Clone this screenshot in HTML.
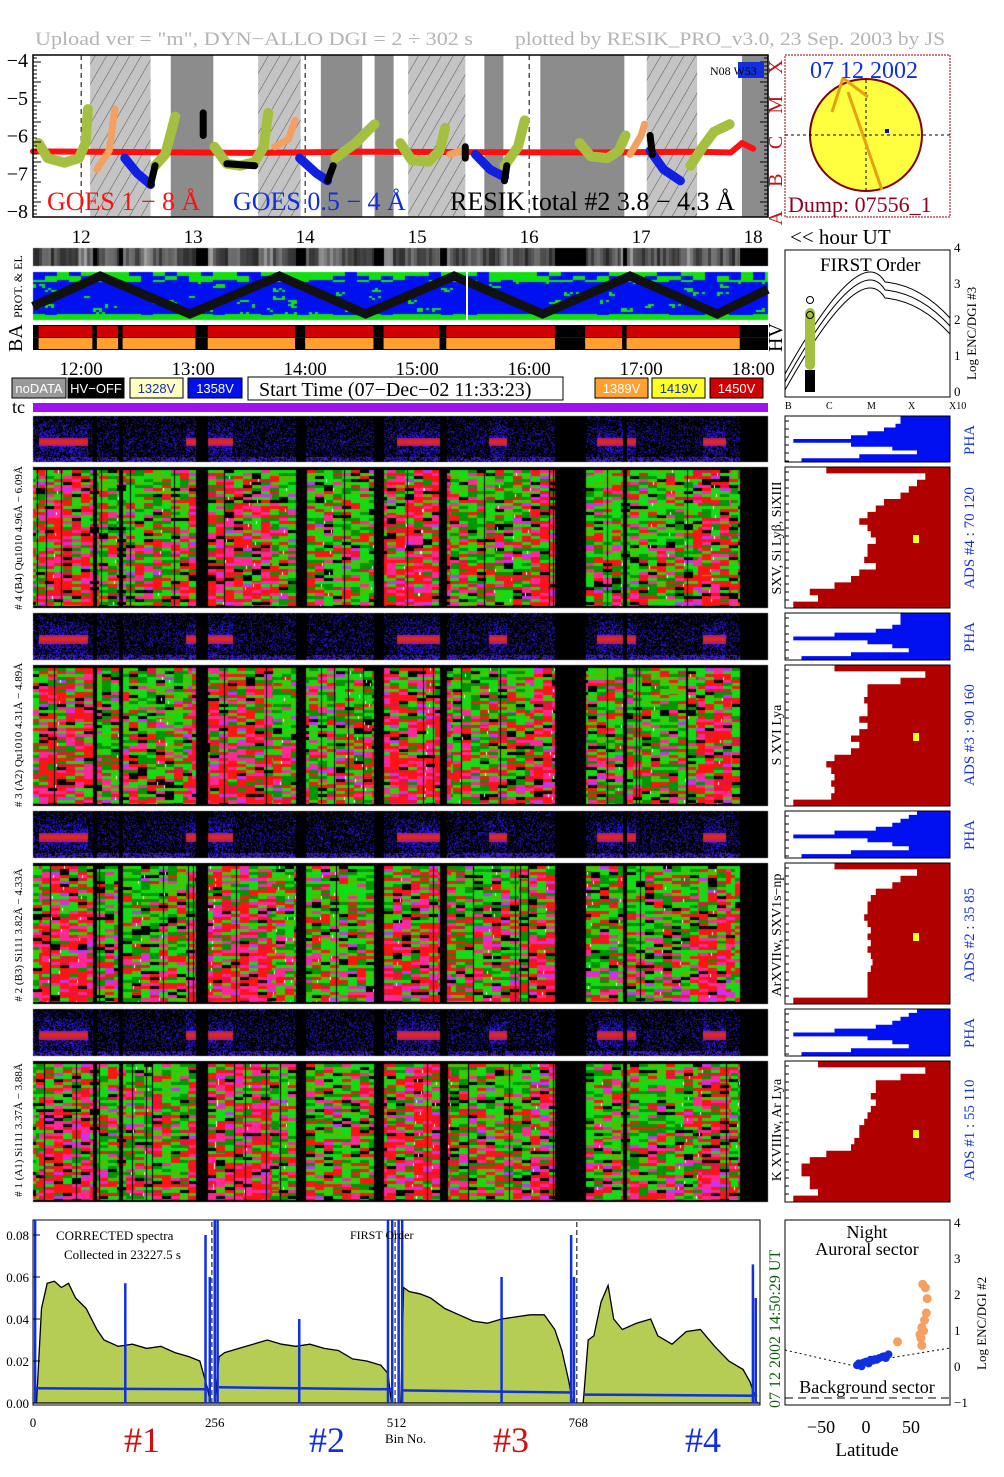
<!DOCTYPE html>
<html><head><meta charset="utf-8"><style>
html,body{margin:0;padding:0;background:#fff;}
#wrap{position:relative;width:1004px;height:1477px;overflow:hidden;font-family:"Liberation Serif",serif;}
canvas{position:absolute;left:0;top:0;}
svg{position:absolute;left:0;top:0;}
</style></head><body>
<div id="wrap">
<canvas id="cv" width="1004" height="1477"></canvas>
<svg id="sv" width="1004" height="1477" xmlns="http://www.w3.org/2000/svg"></svg>
</div>
<script>
// ---------- DATA ----------
const gapStart=[12.10,12.33,13.02,13.91,14.61,15.20,16.23,16.83,17.88];
const gapEnd  =[12.14,12.37,13.13,14.00,14.70,15.26,16.50,16.87,18.13];
const redStart=[11.62,12.93,14.82,15.64,16.60,17.55];
const redEnd  =[12.06,13.35,15.22,15.80,16.95,17.75];
const pinkStart=[11.62,12.95,14.70,16.00,17.50];
const pinkEnd  =[12.10,13.70,15.30,16.25,17.80];
const bandStart=[12.08,12.80,13.58,14.14,14.62,14.92,15.60,16.10,17.05,17.90];
const bandEnd  =[12.62,13.18,13.96,14.51,14.79,15.43,15.77,16.85,17.50,18.13];
const bandHatch=[1,0,1,0,0,1,0,0,1,0];
const hourTicks=[12,13,14,15,16,17,18];
const yTicks=[-4,-5,-6,-7,-8];
const goesT=[11.57,12.5,13.5,14.5,15.5,16.5,17.5,17.8,17.9,18.0];
const goesV=[-6.42,-6.44,-6.46,-6.43,-6.44,-6.45,-6.43,-6.45,-6.2,-6.35];
const oliveT=[11.62,11.7,11.85,11.98,12.04,12.06,null,12.66,12.75,12.84,null,13.19,13.3,13.42,13.55,13.63,13.67,null,14.27,14.45,14.55,14.62,null,14.85,14.95,15.1,15.2,15.25,null,15.78,15.9,15.96,null,16.45,16.55,16.7,16.8,16.86,null,17.44,17.55,17.65,17.79];
const oliveV=[-6.2,-6.6,-6.72,-6.6,-6.2,-5.3,null,-6.8,-6.5,-5.5,null,-6.3,-6.75,-6.8,-6.7,-6.3,-5.4,null,-6.6,-6.2,-5.9,-5.7,null,-6.2,-6.65,-6.7,-6.4,-5.8,null,-6.8,-6.3,-5.6,null,-6.2,-6.55,-6.6,-6.4,-6.0,null,-6.8,-6.3,-5.9,-5.7];
const orangeT=[12.14,12.25,12.3,null,13.73,13.85,13.91,null,15.29,15.4,null,16.9,17.0,17.03];
const orangeV=[-6.9,-6.4,-5.3,null,-6.3,-6.1,-5.6,null,-6.5,-6.4,null,-6.5,-6.0,-5.7];
const blueT=[12.39,12.5,12.62,null,13.95,14.1,14.2,null,15.52,15.65,15.78,null,17.08,17.2,17.35];
const blueV=[-6.6,-7.0,-7.3,null,-6.6,-7.0,-7.2,null,-6.5,-6.9,-7.1,null,-6.4,-6.9,-7.2];
const blackT=[12.62,12.66,null,13.09,13.09,null,13.3,13.55,null,14.2,14.25,null,15.43,15.43,null,15.78,15.8,null,17.08,17.1];
const blackV=[-7.3,-6.8,null,-5.4,-6.0,null,-6.75,-6.8,null,-7.2,-6.8,null,-6.3,-6.6,null,-7.2,-6.8,null,-6.0,-6.5];
const zigT=[11.57,12.17,12.97,13.77,14.54,15.33,16.12,16.90,17.68,18.13];
const zigV=[0.2,1,0,1,0,1,0,1,0,0.65];
const hist4=[0.75,0.15,0.2,0.25,0.3,0.4,0.45,0.5,0.55,0.5,0.48,0.45,0.5,0.5,0.52,0.45,0.55,0.6,0.7,0.85,0.8,0.95];
const hist3=[0.7,0.15,0.3,0.5,0.5,0.52,0.5,0.5,0.55,0.5,0.55,0.6,0.55,0.6,0.7,0.75,0.72,0.7,0.72,0.7,0.72,0.95];
const hist2=[0.7,0.2,0.3,0.35,0.45,0.48,0.5,0.5,0.52,0.5,0.48,0.5,0.48,0.5,0.48,0.47,0.48,0.5,0.5,0.5,0.5,0.95];
const hist1=[0.8,0.15,0.3,0.45,0.45,0.48,0.45,0.48,0.5,0.52,0.55,0.55,0.58,0.6,0.75,0.85,0.9,0.9,0.85,0.85,0.8,0.95];
const pha4=[0.3,0.3,0.33,0.4,0.5,0.6,0.95,0.6,0.35,0.2,0.55,0.9];
const pha3=[0.3,0.3,0.3,0.35,0.45,0.7,0.95,0.5,0.35,0.25,0.6,0.9];
const pha2=[0.2,0.25,0.3,0.35,0.45,0.7,0.95,0.5,0.35,0.25,0.6,0.9];
const pha1=[0.2,0.25,0.3,0.35,0.45,0.7,0.95,0.5,0.35,0.25,0.6,0.9];
const specBins=[0,5,12,20,30,40,50,60,75,90,100,120,140,160,180,200,220,235,245,250,256,262,270,290,310,330,350,370,390,410,430,450,470,490,500,505,512,518,522,530,545,560,580,600,620,640,660,680,700,720,735,745,755,760,768,775,782,790,800,810,818,830,850,870,880,900,920,940,960,980,1000,1010,1015,1020,1024];
const specVals=[0,0,0.045,0.057,0.058,0.055,0.057,0.05,0.045,0.035,0.03,0.027,0.028,0.026,0.027,0.024,0.022,0.02,0.008,0,0,0.022,0.024,0.026,0.028,0.03,0.028,0.027,0.028,0.026,0.025,0.021,0.02,0.018,0.014,0,0,0,0.055,0.053,0.052,0.05,0.045,0.042,0.039,0.038,0.04,0.041,0.042,0.042,0.035,0.025,0.01,0,0,0,0.03,0.032,0.048,0.056,0.04,0.035,0.038,0.04,0.032,0.028,0.034,0.035,0.027,0.02,0.016,0.01,0.005,0,0];
const baseBins=[2,250,262,505,518,760,775,1020];
const baseVals=[0.007,0.0065,0.0075,0.0065,0.006,0.005,0.004,0.0035];
const spikeBins=[3,130,243,249,256,260,375,500,506,515,520,660,758,762,1014,1018];
const spikeVals=[0.09,0.057,0.08,0.06,0.09,0.09,0.04,0.09,0.09,0.09,0.09,0.06,0.08,0.06,0.066,0.05];
const latBlue=[-10,-8,-5,-3,0,3,5,8,10,12,15,18,20,22,25];
const logBlue=[0.05,0.1,0.02,0.12,0.15,0.1,0.2,0.18,0.22,0.2,0.25,0.28,0.3,0.25,0.35];
const latOrange=[35,60,62,65,67,68,66,63,64,61,62];
const logOrange=[0.7,0.9,1.1,1.3,1.5,1.9,2.2,2.3,1.0,0.8,0.6];

// ---------- helpers ----------
const NS='http://www.w3.org/2000/svg';
const sv=document.getElementById('sv');
function el(tag,attrs,parent,txt){const e=document.createElementNS(NS,tag);for(const k in attrs)e.setAttribute(k,attrs[k]);if(txt!==undefined)e.textContent=txt;(parent||sv).appendChild(e);return e;}
const X0=33,X1=768,H0=11.57,PXH=112;
function tx(h){return X0+(h-H0)*PXH;}
function inRanges(h,s,e){for(let i=0;i<s.length;i++)if(h>=s[i]&&h<e[i])return true;return false;}
function hsh(a,b){let v=Math.imul(a,73856093)^Math.imul(b,19349663)^Math.imul(a+b,83492791);v=Math.imul(v^(v>>>13),1274126177);return ((v^(v>>>16))>>>0)/4294967296;}

// ---------- canvas textures ----------
const cv=document.getElementById('cv');const ctx=cv.getContext('2d');
const W=X1-X0;
function mainSpec(y0,h,seed){
  const img=ctx.createImageData(W,h);const d=img.data;
  const cols=[[255,20,20],[255,40,150],[200,50,240],[230,20,60],[20,220,20],[0,150,0],[80,190,0],[0,0,0]];
  for(let x=0;x<W;x++){
    const t=H0+x/PXH; const gap=inRanges(t,gapStart,gapEnd);
    const cb=Math.floor((x+seed*3)/9); const thin=hsh(x,seed+7)<0.03;
    const pk=inRanges(t,pinkStart,pinkEnd)?0.7:0.35;
    for(let y=0;y<h;y++){
      let c=[0,0,0];
      if(!gap&&!thin&&y>2&&y<h-2){
        const r=Math.floor(y/3);const v=hsh(cb*131+seed,r);const v2=hsh(r+seed,cb);
        const p=pk+(y/h-0.5)*0.3;
        if(v<0.08)c=cols[7];else if(v<0.08+p*0.92){c=v2<0.5?cols[0]:(v2<0.8?cols[1]:(v2<0.92?cols[3]:cols[2]));}
        else c=v2<0.5?cols[4]:(v2<0.8?cols[5]:cols[6]);
        if(hsh(x*7+r,seed)<0.004)c=[255,255,255];
      }
      const i=(y*W+x)*4;d[i]=c[0];d[i+1]=c[1];d[i+2]=c[2];d[i+3]=255;
    }
  }
  ctx.putImageData(img,X0,y0);
}
function phaSpec(y0,h,seed,band){
  const img=ctx.createImageData(W,h);const d=img.data;
  for(let x=0;x<W;x++){
    const t=H0+x/PXH;const gap=inRanges(t,gapStart,gapEnd);const red=band&&inRanges(t,redStart,redEnd);
    for(let y=0;y<h;y++){
      let c=[0,0,0];
      if(!gap){
        const v=hsh(x*3+seed,y*5+seed);
        const dist=Math.abs(y/h-0.55);
        const dens=0.2+(red?0.5:0.12)*(1-dist*2);
        if(v<dens)c=[20+v*60|0,20,100+v*400|0];
        if(red&&dist<0.09)c=dist<0.04?[220,40,30]:[180,30,110];
        if(y>h-6&&v<0.6)c=[60,30,200];
      }
      const i=(y*W+x)*4;d[i]=c[0];d[i+1]=c[1];d[i+2]=c[2];d[i+3]=255;
    }
  }
  ctx.putImageData(img,X0,y0);
}
function grayBar(y0,h){
  for(let x=0;x<W;x++){const t=H0+x/PXH;
    if(inRanges(t,gapStart,gapEnd)){ctx.fillStyle='#000';}
    else{const g=40+Math.floor(hsh(Math.floor(x/3),11)*80)+((x%60)>45?40:0);ctx.fillStyle='rgb('+g+','+g+','+g+')';}
    ctx.fillRect(X0+x,y0,1,h);}
}
function protPanel(y0,h){
  ctx.fillStyle='#0010f0';ctx.fillRect(X0,y0,W,h);
  ctx.fillStyle='#10e010';
  for(let x=0;x<W;x+=3)for(let y=0;y<h;y+=2){
    const v=hsh(Math.floor(x/12),Math.floor(y/4)+3);const fr=y/h;
    if((fr<0.2&&v<0.55)||(fr>0.85&&v<0.7)||(v<0.12&&hsh(x,y)<0.5))ctx.fillRect(X0+x,y0+y,3,2);
  }
  ctx.fillStyle='#10e010';ctx.fillRect(X0,y0+h-5,W,5);
}
phaSpec(416,46,1,true);mainSpec(467,141,2);
phaSpec(613,47,3,true);mainSpec(665,141,4);
phaSpec(811,47,5,true);mainSpec(863,141,6);
phaSpec(1009,47,7,true);mainSpec(1061,141,8);
grayBar(248,18);protPanel(272,48);

// ---------- SVG ----------
el('text',{x:35,y:45,'font-size':19,fill:'#b4b4b4',textLength:438,lengthAdjust:'spacingAndGlyphs',},sv,'Upload ver = "m", DYN\u2212ALLO DGI =   2 \u00f7 302 s');
el('text',{x:515,y:45,'font-size':19,fill:'#b4b4b4',textLength:430,lengthAdjust:'spacingAndGlyphs',},sv,'plotted by RESIK_PRO_v3.0, 23 Sep. 2003 by JS');

// top panel
const TP=el('g',{});
const defs=el('defs',{},sv);
const pat=el('pattern',{id:'hatch',width:10,height:10,patternUnits:'userSpaceOnUse',patternTransform:'rotate(30)'},defs);
el('rect',{width:10,height:10,fill:'#c4c4c4'},pat);el('line',{x1:0,y1:0,x2:0,y2:10,stroke:'#555','stroke-width':1},pat);
function vy(v){return 60+(-4-v)*37.75;}
for(let i=0;i<bandStart.length;i++){
  const b=el('rect',{x:tx(bandStart[i]),y:55,width:tx(bandEnd[i])-tx(bandStart[i]),height:162,fill:bandHatch[i]?'url(#hatch)':'#8c8c8c'},TP);
  
}
yTicks.forEach(v=>{
  if(v>-4&&v>-8){const l=el('line',{x1:X0,x2:X1,y1:vy(v),y2:vy(v),stroke:'#000','stroke-dasharray':'5,4','stroke-width':1},TP);}
  const t=el('text',{x:28,y:vy(v)+7,'font-size':20,'text-anchor':'end'},TP,'\u2212'+(-v));
  
});
[12,14,16].forEach(h=>{el('line',{x1:tx(h),x2:tx(h),y1:55,y2:217,stroke:'#000','stroke-dasharray':'5,4'},TP);});
function series(T,V,color,w,name){
  let d='';let pen=false;
  for(let i=0;i<T.length;i++){if(T[i]===null){pen=false;continue;}d+=(pen?'L':'M')+tx(T[i]).toFixed(1)+' '+vy(V[i]).toFixed(1)+' ';pen=true;}
  const p=el('path',{d:d,stroke:color,'stroke-width':w,fill:'none','stroke-linecap':'round','stroke-linejoin':'round'},TP);
  
}
series(goesT,goesV,'#ff1010',6,'goes-1-8-series');
series(oliveT,oliveV,'#a5c040',10,'resik-total-series');
series(orangeT,orangeV,'#f4a060',7,'resik-orange-series');
series(blueT,blueV,'#1020e0',9,'goes-05-4-series');
series(blackT,blackV,'#000',7,'resik-black-series');
el('rect',{x:X0,y:55,width:W,height:162,fill:'none',stroke:'#000','stroke-width':1.5},TP);
for(let y=58;y<217;y+=4){el('line',{x1:X0,x2:X0+(y%20<4?8:4),y1:y,y2:y,stroke:'#000'},TP);el('line',{x1:X1,x2:X1-(y%20<4?8:4),y1:y,y2:y,stroke:'#000'},TP);}
el('rect',{x:738,y:62,width:26,height:16,fill:'#1030e0'},TP);
el('text',{x:710,y:75,'font-size':12},TP,'N08 W53');
el('text',{x:47,y:210,'font-size':26,fill:'#ff1010',},sv,'GOES 1 \u2212 8 \u00c5');
el('text',{x:233,y:210,'font-size':26,fill:'#1030e0',},sv,'GOES 0.5 \u2212 4 \u00c5');
el('text',{x:450,y:210,'font-size':26,fill:'#000',},sv,'RESIK total #2  3.8 \u2212 4.3 \u00c5');
['X','M','C','B','A'].forEach((c,i)=>{const t=el('text',{x:0,y:0,'font-size':20,fill:'#c01010',transform:'translate(782,'+(vy(-4-i)+7)+') rotate(-90)','text-anchor':'middle'},sv,c);});

// sun panel
const SP=el('g',{});
el('rect',{x:785,y:55,width:165,height:162,fill:'#fff',stroke:'#900',"stroke-dasharray":'2,1'},SP);
el('circle',{cx:866,cy:135,r:56,fill:'#ffff40',stroke:'#800000','stroke-width':2},SP);
el('line',{x1:785,x2:950,y1:135,y2:135,stroke:'#000','stroke-dasharray':'3,3'},SP);
el('line',{x1:866,x2:866,y1:80,y2:190,stroke:'#000','stroke-dasharray':'3,3'},SP);
el('path',{d:'M848 92 L882 190 M843 78 L832 112 M843 78 L868 97',stroke:'#e8a010','stroke-width':3,fill:'none'},SP);
el('rect',{x:885,y:129,width:4,height:4,fill:'#00f'},SP);
el('text',{x:810,y:78,'font-size':24,fill:'#1030e0'},SP,'07 12 2002');
el('text',{x:788,y:212,'font-size':22,fill:'#900020'},SP,'Dump: 07556_1');

// hour labels
hourTicks.forEach(h=>{const t=el('text',{x:tx(h),y:243,'font-size':19,'text-anchor':'middle'},sv,h);});
el('text',{x:790,y:244,'font-size':21,},sv,'<< hour UT');
el('text',{x:0,y:0,'font-size':12,transform:'translate(22,318) rotate(-90)',},sv,'PROT. & EL');

// zigzag
let zd='';for(let i=0;i<zigT.length;i++){zd+=(i?'L':'M')+tx(zigT[i]).toFixed(1)+' '+(314-zigV[i]*38).toFixed(1)+' ';}
el('path',{d:zd,stroke:'#111','stroke-width':9,fill:'none',},sv);
el('line',{x1:467,x2:467,y1:272,y2:320,stroke:'#fff','stroke-width':2},sv);

// BA bar
const BA=el('g',{});
el('rect',{x:X0,y:325,width:W,height:25,fill:'#000'},BA);
const baS=[11.62,12.14,12.37,13.13,14.00,14.70,15.26,16.50,16.87];
const baE=[12.10,12.33,13.02,13.91,14.61,15.20,16.23,16.83,17.88];
for(let i=0;i<baS.length;i++){
  const x=tx(baS[i]),w=tx(baE[i])-x;
  const r1=el('rect',{x:x,y:326,width:w,height:11,fill:'#d00000'},BA);
  const r2=el('rect',{x:x,y:338,width:w,height:11,fill:'#ffa030'},BA);
}
el('line',{x1:X0,x2:X1,y1:337.5,y2:337.5,stroke:'#001080'},BA);
el('text',{x:0,y:0,'font-size':20,transform:'translate(22,352) rotate(-90)'},sv,'BA');
el('text',{x:0,y:0,'font-size':20,transform:'translate(782,352) rotate(-90)'},sv,'HV');

// time labels
hourTicks.forEach(h=>{const t=el('text',{x:tx(h),y:375,'font-size':19,'text-anchor':'middle'},sv,h+':00');});
const legs=[[12,54,'#999','#fff','noDATA'],[68,56,'#000','#fff','HV\u2212OFF'],[130,53,'#ffffc0','#1030c0','1328V'],[188,54,'#0010f0','#fff','1358V'],[595,53,'#ffa030','#fff','1389V'],[652,53,'#ffff20','#1030c0','1419V'],[710,53,'#d00000','#fff','1450V']];
legs.forEach(l=>{const g=el('g',{});
  el('rect',{x:l[0],y:378,width:l[1],height:20,fill:l[2],stroke:'#000'},g);
  el('text',{x:l[0]+l[1]/2,y:393,'font-size':13,fill:l[3],'text-anchor':'middle','font-family':'Liberation Sans Narrow, Liberation Sans, sans-serif'},g,l[4]);});
el('rect',{x:248,y:377,width:315,height:23,fill:'#fff',stroke:'#000',},sv);
el('text',{x:259,y:396,'font-size':20},sv,'Start Time (07\u2212Dec\u221202 11:33:23)');
el('text',{x:12,y:413,'font-size':18},sv,'tc');
el('rect',{x:X0,y:403,width:W,height:9,fill:'#a010f0',},sv);

// left labels
const leftL=[[538,'# 4  (B4)  Qu1010  4.96\u00c5  \u2212  6.09\u00c5'],[735,'# 3  (A2)  Qu1010  4.31\u00c5  \u2212  4.89\u00c5'],[935,'# 2  (B3)  Si111  3.82\u00c5  \u2212  4.33\u00c5'],[1130,'# 1  (A1)  Si111  3.37\u00c5  \u2212  3.88\u00c5']];
leftL.forEach(l=>{const t=el('text',{x:0,y:0,'font-size':11,'text-anchor':'middle',transform:'translate(22,'+l[0]+') rotate(-90)'},sv,l[1]);});
const midL=[[538,'SXV, Si Ly\u03b2, SiXIII'],[735,'S XVI Lya'],[935,'ArXVIIw, SXV1s\u2212np'],[1130,'K XVIIIw, Ar Lya']];
midL.forEach(l=>{const t=el('text',{x:0,y:0,'font-size':14,'text-anchor':'middle',transform:'translate(781,'+l[0]+') rotate(-90)'},sv,l[1]);});

// right histograms
function hist(y0,h,vals,color,name){
  const g=el('g',{});
  el('rect',{x:785,y:y0,width:165,height:h,fill:'#fff',stroke:'#000'},g);
  const n=vals.length,bh=h/n;let d='M950 '+y0;
  for(let i=0;i<n;i++){const x=950-vals[i]*165;d+=' L'+x.toFixed(1)+' '+(y0+i*bh).toFixed(1)+' L'+x.toFixed(1)+' '+(y0+(i+1)*bh).toFixed(1);}
  d+=' L950 '+(y0+h)+' Z';
  const p=el('path',{d:d,fill:color},g);
  el('rect',{x:785,y:y0,width:165,height:h,fill:'none',stroke:'#000'},g);
  for(let y=y0+5;y<y0+h;y+=8)el('line',{x1:785,x2:789,y1:y,y2:y,stroke:'#000'},g);
  return g;
}
hist(416,46,pha4,'#0010f0','pha-histogram-4');hist(467,141,hist4,'#b00000','ads-histogram-4');
hist(613,47,pha3,'#0010f0','pha-histogram-3');hist(665,141,hist3,'#b00000','ads-histogram-3');
hist(811,47,pha2,'#0010f0','pha-histogram-2');hist(863,141,hist2,'#b00000','ads-histogram-2');
hist(1009,47,pha1,'#0010f0','pha-histogram-1');hist(1061,141,hist1,'#b00000','ads-histogram-1');
[535,733,933,1130].forEach(y=>el('rect',{x:913,y:y,width:6,height:8,fill:'#ffff20'},sv));
[[440,'PHA'],[637,'PHA'],[835,'PHA'],[1033,'PHA'],[538,'ADS #4 :   70 120'],[735,'ADS #3 :   90 160'],[935,'ADS #2 :   35  85'],[1130,'ADS #1 :   55 110']].forEach(l=>{
  const t=el('text',{x:0,y:0,'font-size':15,fill:'#1030e0','text-anchor':'middle',transform:'translate(974,'+l[0]+') rotate(-90)'},sv,l[1]);});

// first order panel
const FO=el('g',{});
el('rect',{x:785,y:250,width:165,height:147,fill:'#fff',stroke:'#000'},FO);
el('text',{x:820,y:271,'font-size':19},FO,'FIRST Order');
[0,8,16].forEach(o=>{el('path',{d:'M785 '+(374+o)+' Q860 '+(240+o)+' 885 '+(282+o)+' Q920 '+(285+o)+' 950 '+(318+o),fill:'none',stroke:'#000'},FO);});
el('rect',{x:805,y:308,width:10,height:62,rx:5,fill:'#a5c040'},FO);
el('rect',{x:805,y:370,width:10,height:22,fill:'#000'},FO);
[300,315].forEach(y=>el('circle',{cx:810,cy:y,r:3.5,fill:'none',stroke:'#000'},FO));
['0','1','2','3','4'].forEach((t,i)=>el('text',{x:954,y:396-i*36,'font-size':13},FO,t));
['B','C','M','X','X10'].forEach((t,i)=>el('text',{x:785+i*41,y:409,'font-size':10},FO,t));
el('text',{x:0,y:0,'font-size':13,transform:'translate(976,380) rotate(-90)'},FO,'Log ENC/DGI #3');

// bottom spectrum
const BP=el('g',{});
function bx(b){return 33+b*(727/1024);}function byv(v){return 1403-v*2100;}
el('rect',{x:33,y:1220,width:727,height:185,fill:'#fff',stroke:'#000'},BP);
let sd='M'+bx(0)+' '+byv(0);for(let i=0;i<specBins.length;i++)sd+=' L'+bx(specBins[i]).toFixed(1)+' '+byv(specVals[i]).toFixed(1);sd+=' L'+bx(1024)+' '+byv(0)+' Z';
el('path',{d:sd,fill:'#b5cc55',stroke:'#000','stroke-width':1.3,},BP);
let bd='';for(let i=0;i<baseBins.length;i+=2){bd+='M'+bx(baseBins[i]).toFixed(1)+' '+byv(baseVals[i]).toFixed(1)+' L'+bx(baseBins[i+1]).toFixed(1)+' '+byv(baseVals[i+1]).toFixed(1)+' ';}
el('path',{d:bd,stroke:'#1030e0','stroke-width':2.5,fill:'none',},BP);
spikeBins.forEach((b,i)=>{const l=el('line',{x1:bx(b),x2:bx(b),y1:byv(0),y2:Math.max(1220,byv(spikeVals[i])),stroke:'#1030e0','stroke-width':2.5},BP);});
[252,510,766].forEach(b=>el('line',{x1:bx(b),x2:bx(b),y1:1222,y2:1403,stroke:'#000','stroke-dasharray':'5,3'},BP));
[0,0.02,0.04,0.06,0.08].forEach(v=>{const t=el('text',{x:29,y:byv(v)+5,'font-size':13,'text-anchor':'end'},BP,v.toFixed(2));el('line',{x1:33,x2:40,y1:byv(v),y2:byv(v),stroke:'#000'},BP);});
[0,256,512,768].forEach(b=>{const t=el('text',{x:bx(b),y:1427,'font-size':13,'text-anchor':'middle'},BP,b);});
el('text',{x:56,y:1240,'font-size':13},BP,'CORRECTED spectra');
el('text',{x:64,y:1259,'font-size':13},BP,'Collected in 23227.5 s');
el('text',{x:350,y:1239,'font-size':12},BP,'FIRST Order');
el('text',{x:385,y:1443,'font-size':13},BP,'Bin No.');
[['#1',142,'#d01010'],['#2',327,'#1030e0'],['#3',511,'#d01010'],['#4',703,'#1030e0']].forEach(l=>{const t=el('text',{x:l[1],y:1452,'font-size':36,fill:l[2],'text-anchor':'middle'},BP,l[0]);});
el('text',{x:0,y:0,'font-size':16,fill:'#106010',transform:'translate(780,1408) rotate(-90)',},sv,'07 12 2002     14:50:29 UT');

// latitude panel
const LP=el('g',{});
function lx(l){return 866+l*0.9;}function ly(v){return 1367-v*36;}
el('rect',{x:785,y:1220,width:165,height:185,fill:'#fff',stroke:'#000'},LP);
el('text',{x:867,y:1238,'font-size':18,'text-anchor':'middle'},LP,'Night');
el('text',{x:867,y:1255,'font-size':18,'text-anchor':'middle'},LP,'Auroral sector');
el('text',{x:867,y:1393,'font-size':18,'text-anchor':'middle'},LP,'Background sector');
el('path',{d:'M785 1350 L850 1365 L890 1358 L950 1348',stroke:'#000','stroke-dasharray':'2,3',fill:'none'},LP);
el('line',{x1:785,x2:950,y1:1398,y2:1398,stroke:'#000','stroke-dasharray':'8,5'},LP);
latBlue.forEach((l,i)=>{const c=el('circle',{cx:lx(l),cy:ly(logBlue[i]),r:4,fill:'#1030e0'},LP);});
latOrange.forEach((l,i)=>{const c=el('circle',{cx:lx(l),cy:ly(logOrange[i]),r:4.5,fill:'#f4a060'},LP);});
['\u22121','0','1','2','3','4'].forEach((t,i)=>el('text',{x:954,y:1407-i*36,'font-size':13},LP,t));
[[-50,'\u221250'],[0,'0'],[50,'50']].forEach(l=>el('text',{x:lx(l[0]),y:1433,'font-size':18,'text-anchor':'middle'},LP,l[1]));
el('text',{x:867,y:1456,'font-size':19,'text-anchor':'middle'},LP,'Latitude');
el('text',{x:0,y:0,'font-size':13,transform:'translate(986,1370) rotate(-90)'},LP,'Log ENC/DGI #2');
</script>
</body></html>
